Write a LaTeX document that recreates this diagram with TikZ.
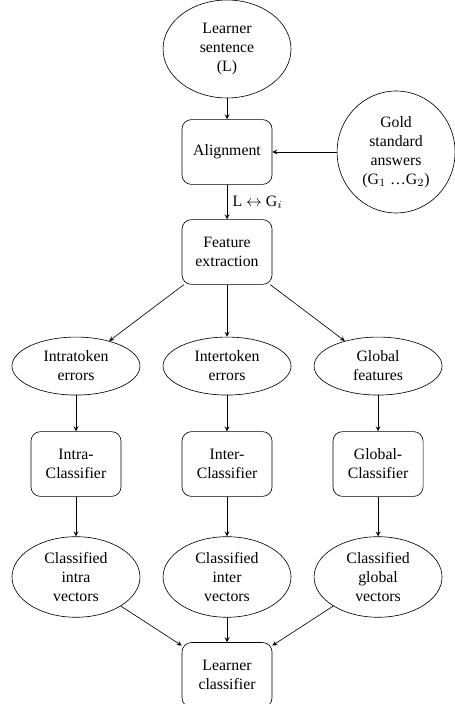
\documentclass[tikz,border=0pt]{standalone}
\usepackage{fontspec}
\setmainfont{Liberation Serif}
\usetikzlibrary{positioning,shapes.geometric,arrows}

\begin{document}
\begin{tikzpicture}[->,>=stealth,auto,on grid,node distance=62pt,
    box node/.style={draw,rounded corners=6pt,align=center,minimum width=57pt,minimum height=41pt},
    oval node/.style={draw,ellipse,align=center,inner sep=0pt,minimum width=81pt,minimum height=36.7pt},
    big oval/.style={oval node,minimum height=51pt}]
    \useasboundingbox (-143.7pt,31pt) rectangle (143.7pt,-414.6pt);

    \node[oval node,minimum height=62pt] (learner) {Learner\\sentence\\(L)};
    \node[box node] (align) [below=65.2pt of learner] {Alignment};
    \node[oval node,minimum width=74.7pt,minimum height=77.2pt] (gold) [right=107pt of align] {Gold\\standard\\answers\\(G$_1$ \ldots G$_2$)};
    \node[box node] (feature) [below=63.3pt of align] {Feature\\extraction};

    \node[oval node] (intertok) [below=72.2pt of feature] {Intertoken\\errors};
    \node[oval node] (intratok) [left=95.6pt of intertok] {Intratoken\\errors};
    \node[oval node] (globfeat) [right=95.6pt of intertok] {Global\\features};

    \node[box node] (intracl) [below=of intratok] {Intra-\\Classifier};
    \node[box node] (intercl) [below=of intertok] {Inter-\\Classifier};
    \node[box node] (globcl) [below=of globfeat] {Global-\\Classifier};

    \node[big oval] (intravec) [below=71.5pt of intracl] {Classified\\intra\\vectors};
    \node[big oval] (intervec) [below=71.5pt of intercl] {Classified\\inter\\vectors};
    \node[big oval] (globvec) [below=71.5pt of globcl] {Classified\\global\\vectors};

    \node[box node] (final) [below=of intervec] {Learner\\classifier};

    \path
        (learner) edge (align)
        (gold) edge (align)
        (align) edge node[right] {L $\leftrightarrow$ G$_i$} (feature)
        (feature) edge (intratok)
        (feature) edge (intertok)
        (feature) edge (globfeat)
        (intratok) edge (intracl)
        (intertok) edge (intercl)
        (globfeat) edge (globcl)
        (intracl) edge (intravec)
        (intercl) edge (intervec)
        (globcl) edge (globvec)
        (intravec) edge (final)
        (intervec) edge (final)
        (globvec) edge (final)
        ;
\end{tikzpicture}
\end{document}
